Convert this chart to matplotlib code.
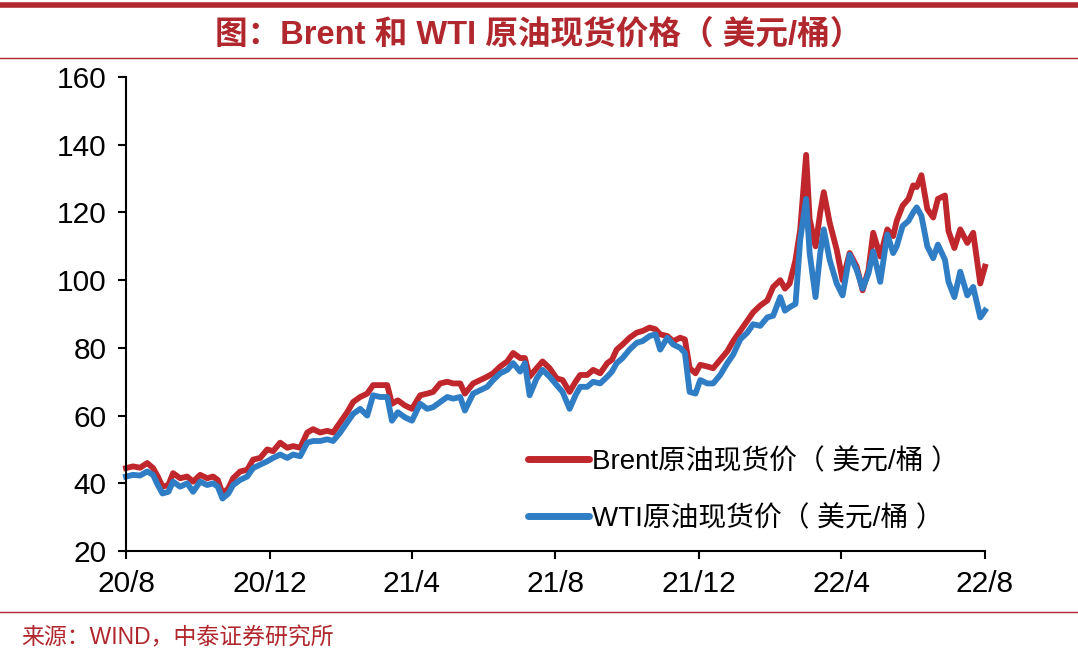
import pandas as pd
import matplotlib
matplotlib.use('Agg')
import matplotlib.pyplot as plt
from matplotlib.lines import Line2D

plt.rcParams['font.family'] = ['Liberation Sans', 'Noto Sans CJK SC', 'DejaVu Sans']

# 数据（从原图读取，约每周一个点）
dates = ['2020-08-01', '2020-08-07', '2020-08-13', '2020-08-19', '2020-08-24', '2020-08-28',
         '2020-09-01', '2020-09-06', '2020-09-10', '2020-09-16', '2020-09-22', '2020-09-27',
         '2020-10-03', '2020-10-09', '2020-10-14', '2020-10-18', '2020-10-22', '2020-10-27',
         '2020-10-31', '2020-11-06', '2020-11-12', '2020-11-17', '2020-11-23', '2020-11-29',
         '2020-12-04', '2020-12-10', '2020-12-16', '2020-12-21', '2020-12-27', '2021-01-02',
         '2021-01-07', '2021-01-13', '2021-01-19', '2021-01-24', '2021-01-30', '2021-02-05',
         '2021-02-10', '2021-02-16', '2021-02-22', '2021-02-27', '2021-03-05', '2021-03-11',
         '2021-03-15', '2021-03-20', '2021-03-26', '2021-04-01', '2021-04-08', '2021-04-14',
         '2021-04-19', '2021-04-25', '2021-05-01', '2021-05-06', '2021-05-12', '2021-05-16',
         '2021-05-23', '2021-05-29', '2021-06-04', '2021-06-09', '2021-06-15', '2021-06-21',
         '2021-06-26', '2021-07-02', '2021-07-06', '2021-07-10', '2021-07-16', '2021-07-21',
         '2021-07-27', '2021-08-02', '2021-08-07', '2021-08-13', '2021-08-18', '2021-08-22',
         '2021-08-28', '2021-09-02', '2021-09-08', '2021-09-14', '2021-09-18', '2021-09-22',
         '2021-09-27', '2021-10-03', '2021-10-09', '2021-10-14', '2021-10-20', '2021-10-25',
         '2021-10-29', '2021-11-04', '2021-11-09', '2021-11-15', '2021-11-19', '2021-11-23',
         '2021-11-28', '2021-12-02', '2021-12-08', '2021-12-13', '2021-12-19', '2021-12-25',
         '2021-12-30', '2022-01-05', '2022-01-11', '2022-01-16', '2022-01-22', '2022-01-28',
         '2022-02-02', '2022-02-08', '2022-02-12', '2022-02-16', '2022-02-21', '2022-02-25',
         '2022-03-02', '2022-03-05', '2022-03-10', '2022-03-14', '2022-03-17', '2022-03-22',
         '2022-03-28', '2022-04-02', '2022-04-08', '2022-04-14', '2022-04-19', '2022-04-24',
         '2022-04-28', '2022-05-04', '2022-05-10', '2022-05-15', '2022-05-18', '2022-05-23',
         '2022-05-28', '2022-06-01', '2022-06-04', '2022-06-08', '2022-06-13', '2022-06-18',
         '2022-06-22', '2022-06-28', '2022-07-01', '2022-07-06', '2022-07-11', '2022-07-17',
         '2022-07-22', '2022-07-28', '2022-08-01']

brent = [44.5, 45, 44.6, 46, 44.5, 42,
         39, 39.5, 43, 41.5, 42, 40.5,
         42.5, 41.5, 42, 41, 37, 38.5,
         41.5, 43.5, 44, 47, 47.5, 50,
         49.5, 52, 50.5, 51, 50.5, 55,
         56, 55, 55.5, 55, 58, 61,
         64, 65.5, 66.5, 69, 69, 69,
         63.5, 64.5, 63, 62, 66, 66.5,
         67, 69.5, 70, 69.5, 69.5, 66.5,
         69.5, 70.5, 71.5, 72.5, 74.5, 76,
         78.5, 77, 77, 71.5, 74, 76,
         74, 71, 70.5, 67, 70, 72,
         72, 73.5, 72.5, 75.5, 76.5, 79.5,
         81, 83, 84.5, 85, 86, 85.5,
         84, 83.5, 82, 83, 82.5, 74,
         72.5, 75, 74.5, 74, 76.5, 79,
         82, 85, 88, 90.5, 92.5, 94,
         98, 100, 97.5, 99, 106, 115,
         137, 118, 110, 120, 126, 117,
         109, 100, 108, 104, 97, 103,
         114, 107, 115, 113, 117.5, 122,
         124, 128, 127.5, 131, 121, 118.5,
         124, 125, 114.5, 109.5, 115, 111,
         114, 99, 104]

wti = [42, 42.5, 42.3, 43.5, 42.5, 39.5,
       37, 37.5, 40.5, 39, 40, 37.5,
       40.5, 39.5, 40, 39, 35.5, 37,
       39.5, 41, 42, 44.5, 45.5, 46.5,
       47.5, 48.5, 47.5, 48.5, 48, 52,
       52.5, 52.5, 53, 52.5, 55, 58,
       60.5, 62, 60, 66, 65.5, 65.5,
       58.5, 61, 59.5, 58.5, 63.5, 62,
       62.5, 64, 65.5, 65, 65.5, 61.5,
       66.5, 67.5, 68.5, 70.5, 72.5, 73.5,
       75.5, 73, 75.5, 66, 71, 73.5,
       71.5, 69, 67, 62, 66, 68.5,
       68.5, 70, 69.5, 71.5, 73, 75.5,
       77, 79.5, 81.5, 82, 83.5, 84,
       79.5, 83, 81, 80, 78.5, 67,
       66.5, 70.5, 69.5, 69.5, 72, 75.5,
       78, 82.5, 84.5, 87, 86.5, 89,
       89.5, 95, 91, 92, 93, 112,
       124, 108, 95, 108, 115, 106,
       99, 95.5, 107.5, 103, 97.5, 102,
       108.5, 99.5, 113.5, 108, 110, 116,
       117.5, 120, 121.5, 119, 110, 106.5,
       110.5, 106, 99.5, 95, 102.5, 95.5,
       98, 89, 91]

tick_dates = ['2020-08-01', '2020-12-01', '2021-04-01', '2021-08-01',
              '2021-12-01', '2022-04-01', '2022-08-01']
tick_labels = ['20/8', '20/12', '21/4', '21/8', '21/12', '22/4', '22/8']

df = pd.DataFrame({'brent': brent, 'wti': wti}, index=pd.to_datetime(dates))

red = '#C0272D'
blue = '#2F7DC4'
dark_red = '#B0282E'

fig = plt.figure(figsize=(10.78, 6.56), dpi=100)
ax = fig.add_axes([0.1169, 0.16, 0.7968, 0.7226])

ax.plot(df.index, df['brent'], color=red, lw=4.2, clip_on=False, solid_joinstyle='round')
ax.plot(df.index, df['wti'], color=blue, lw=4.2, clip_on=False, solid_joinstyle='round')

ax.set_ylim(20, 160)
ax.set_yticks(range(20, 161, 20))
ax.set_xlim(pd.Timestamp('2020-08-01'), pd.Timestamp('2022-08-01'))
ax.set_xticks(pd.to_datetime(tick_dates))
ax.set_xticklabels(tick_labels)

for s in ['top', 'right']:
    ax.spines[s].set_visible(False)
for s in ['left', 'bottom']:
    ax.spines[s].set_linewidth(1.5)
ax.tick_params(axis='both', direction='out', length=6, width=1.5, labelsize=21.5, pad=8)

handles = [Line2D([], [], color=red, lw=5, solid_capstyle='round'),
           Line2D([], [], color=blue, lw=5, solid_capstyle='round')]
ax.legend(handles, ['Brent原油现货价（ 美元/桶 ）', 'WTI原油现货价（ 美元/桶 ）'],
          loc='upper left', bbox_to_anchor=(0.455, 0.24), frameon=False,
          fontsize=20, handlelength=2.2, handletextpad=0.1, labelspacing=1.1,
          borderaxespad=0)

# 标题与来源
fig.add_artist(Line2D([0, 1], [0.9925, 0.9925], color=dark_red, lw=4))
fig.text(0.5, 0.947, '图：Brent 和 WTI 原油现货价格（ 美元/桶）', ha='center', va='center',
         fontsize=23.5, fontweight='bold', color=dark_red)
fig.add_artist(Line2D([0, 1], [0.912, 0.912], color=dark_red, lw=1))
fig.add_artist(Line2D([0, 1], [0.067, 0.067], color=dark_red, lw=1))
fig.text(0.02, 0.027, '来源：WIND，中泰证券研究所', ha='left', va='center',
         fontsize=16.5, color=dark_red)

fig.savefig('out.png', dpi=100)
